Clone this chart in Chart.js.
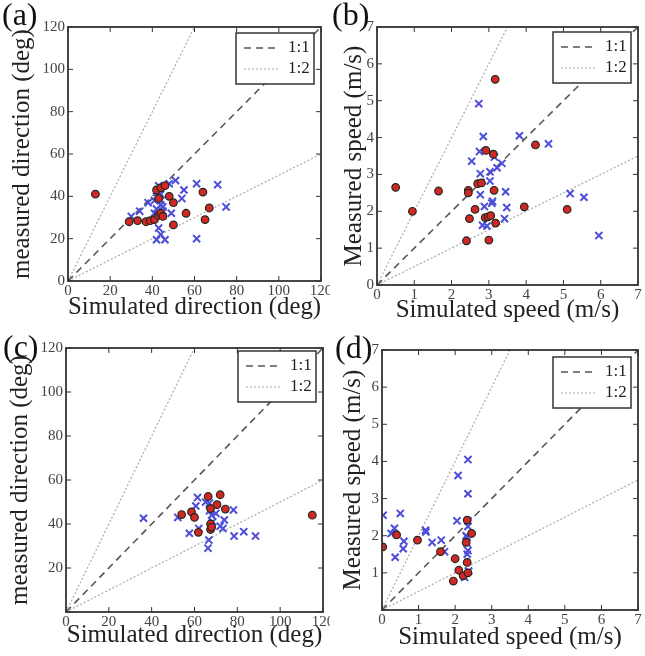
<!DOCTYPE html>
<html>
<head>
<meta charset="utf-8">
<script src="https://cdn.jsdelivr.net/npm/chart.js@4.4.1/dist/chart.umd.min.js"></script>
<style>
body { margin: 0; background: #fff; }
#wrap { position: relative; width: 645px; height: 656px; }
canvas { position: absolute; }
</style>
</head>
<body>
<div id="wrap">
  <canvas id="chartA" width="330" height="325" style="left:0;top:0"></canvas>
  <canvas id="chartB" width="325" height="325" style="left:320px;top:0"></canvas>
  <canvas id="chartC" width="330" height="331" style="left:0;top:325px"></canvas>
  <canvas id="chartD" width="325" height="331" style="left:320px;top:325px"></canvas>
</div>
<script>
// (a) direction, first run  [simulated, measured]
const dirCirclesA = [[13,41],[29,28],[33,28.5],[37,28],[39,28.5],[41,29],[43,31],[44,32],[45,30.5],[42,43],
  [44,44],[46,45],[43,39],[48,40],[50,37],[50,26.5],[56,32],[64,42],[67,34.5],[65,29]]
const dirCrossesA = [[30,30.5],[34,33],[38,37],[41,32],[41,38],[42,40],[43,45],[43,42],[44,41],[44,38],
  [44,36],[45,35],[45,33],[42,34],[43,25],[42,19.5],[44,22],[46,19.5],[48,46],[51,47.5],[49,32],
  [54,39],[55,43],[61,46],[61,20],[71,45.5],[75,35]]

// (b) speed, first run
const spdCirclesB = [[0.5,2.65],[0.95,2.0],[1.65,2.55],[2.45,2.57],[2.45,2.5],[2.48,1.8],[2.4,1.2],[2.7,2.75],
  [2.8,2.77],[2.63,2.05],[2.92,3.65],[3.12,3.55],[3.14,2.57],[2.9,1.83],[2.98,1.85],[3.05,1.88],[3.0,1.22],
  [3.18,1.68],[3.17,5.58],[4.25,3.8],[3.95,2.12],[5.1,2.05]]
const spdCrossesB = [[2.73,4.92],[2.85,4.03],[2.54,3.36],[2.75,3.62],[2.77,3.02],[2.77,2.45],[3.03,3.07],
  [3.03,2.82],[3.22,3.18],[3.35,3.3],[2.88,2.13],[3.08,2.22],[3.1,2.27],[2.83,1.62],[2.95,1.6],[3.45,2.53],
  [3.48,2.1],[3.42,1.8],[3.82,4.05],[4.6,3.83],[5.18,2.48],[5.55,2.38],[5.95,1.34],[3.15,3.47]]

// (c) direction, second run
const dirCirclesC = [[54,44.3],[58.6,45.5],[60,43],[61.8,36.2],[66.4,52.5],[72,53.3],[70.5,48.8],[74.4,46.8],
  [67.5,47],[67.5,40],[67.5,37.5],[68,38.5],[115,44]]
const dirCrossesC = [[36.2,42.6],[52.2,43],[61.4,52],[60.6,48.2],[57.6,35.8],[66.7,32.7],[66.3,29],[65.2,50],
  [67,46],[68,44],[68.5,41],[70,44.8],[78.2,46.4],[73.9,41.8],[73.3,38],[78.5,34.5],[83,36.5],[88.5,34.5],
  [62,38],[67,49.5],[72,39]]

// (d) speed, second run
const spdCirclesD = [[0.02,1.7],[0.4,2.02],[0.97,1.88],[1.6,1.57],[2.0,1.38],[2.1,1.07],[1.95,0.78],[2.22,0.92],
  [2.33,1.28],[2.33,2.42],[2.45,2.06],[2.3,1.82],[2.35,1.0]]
const spdCrossesD = [[0.03,2.55],[0.5,2.6],[0.34,2.2],[0.25,2.06],[0.36,1.42],[0.6,1.85],[0.58,1.65],[1.19,2.15],
  [1.2,2.1],[1.37,1.82],[1.62,1.88],[1.71,1.57],[2.05,2.4],[2.08,3.62],[2.35,4.05],[2.35,3.13],[2.35,2.4],
  [2.35,2.25],[2.32,1.98],[2.32,1.8],[2.35,1.6],[2.33,1.5],[2.26,0.88],[2.37,1.05],[2.3,2.0]]

const dirTicks = [0, 20, 40, 60, 80, 100, 120]
const spdTicks = [0, 1, 2, 3, 4, 5, 6, 7]
const ratioLabels = ['1:1', '1:2']

const serif = '"Liberation Serif", "DejaVu Serif", serif'

const panelDeco = {
  id: 'panelDeco',
  afterDatasetsDraw(chart, args, opts) {
    const {ctx, chartArea: ca} = chart
    const xs = chart.scales.x, ys = chart.scales.y
    ctx.save()
    ctx.strokeStyle = '#333'
    ctx.lineWidth = 1
    ctx.beginPath()
    xs.ticks.forEach(t => {
      const px = xs.getPixelForValue(t.value)
      ctx.moveTo(px, ca.bottom); ctx.lineTo(px, ca.bottom - 5)
      ctx.moveTo(px, ca.top); ctx.lineTo(px, ca.top + 5)
    })
    ys.ticks.forEach(t => {
      const py = ys.getPixelForValue(t.value)
      ctx.moveTo(ca.left, py); ctx.lineTo(ca.left + 5, py)
      ctx.moveTo(ca.right, py); ctx.lineTo(ca.right - 5, py)
    })
    ctx.stroke()
    ctx.lineWidth = 1.8
    ctx.strokeRect(ca.left, ca.top, ca.width, ca.height)

    // legend box
    const items = chart.data.datasets.filter(d => d.inLegend)
    const bw = 78, bh = 51
    const bx = ca.right - 7 - bw, by = ca.top + opts.legTop
    ctx.fillStyle = '#fff'
    ctx.fillRect(bx, by, bw, bh)
    ctx.lineWidth = 1.5
    ctx.strokeStyle = '#333'
    ctx.strokeRect(bx, by, bw, bh)
    items.forEach((d, i) => {
      const yy = by + 15 + i * 21
      ctx.setLineDash(d.borderDash)
      ctx.strokeStyle = d.borderColor
      ctx.lineWidth = d.borderWidth
      ctx.beginPath(); ctx.moveTo(bx + 8, yy); ctx.lineTo(bx + 42, yy); ctx.stroke()
      ctx.setLineDash([])
      ctx.fillStyle = '#222'
      ctx.font = '17px ' + serif
      ctx.textBaseline = 'middle'
      ctx.textAlign = 'left'
      ctx.fillText(d.label, bx + 52, yy)
    })

    ctx.fillStyle = '#111'
    ctx.font = '32px ' + serif
    ctx.textBaseline = 'alphabetic'
    ctx.textAlign = 'left'
    ctx.fillText(opts.letter, opts.lx, opts.ly)
    ctx.restore()
  }
}

function makeSets(circles, crosses, max) {
  return [
    {data: circles.map(([x, y]) => ({x, y})), pointStyle: 'circle', pointRadius: 3.8,
     backgroundColor: '#d42626', borderColor: '#1c2a1c', pointBorderWidth: 1.2},
    {data: crosses.map(([x, y]) => ({x, y})), pointStyle: 'crossRot', pointRadius: 5,
     borderColor: '#4d4dd8', backgroundColor: '#4d4dd8', pointBorderWidth: 2},
    {label: ratioLabels[0], inLegend: true, showLine: true, data: [{x: 0, y: 0}, {x: max, y: max}],
     borderColor: '#555', borderDash: [7, 5], borderWidth: 1.6, pointRadius: 0},
    {label: ratioLabels[1], inLegend: true, showLine: true, data: [{x: 0, y: 0}, {x: max, y: max / 2}],
     borderColor: '#aaa', borderDash: [2, 2], borderWidth: 1.2, pointRadius: 0},
    {label: ratioLabels[1], showLine: true, data: [{x: 0, y: 0}, {x: max / 2, y: max}],
     borderColor: '#aaa', borderDash: [2, 2], borderWidth: 1.2, pointRadius: 0}
  ]
}

function makeChart(id, p) {
  const max = p.ticks[p.ticks.length - 1]
  const tickFont = {family: serif, size: 15}
  const titleFont = {family: serif, size: 25}
  return new Chart(document.getElementById(id), {
    type: 'scatter',
    data: {datasets: makeSets(p.circles, p.crosses, max)},
    options: {
      responsive: false,
      animation: false,
      layout: {padding: {left: 0, right: p.padR, top: p.padT, bottom: 0}},
      plugins: {
        legend: {display: false},
        tooltip: {enabled: false},
        panelDeco: {letter: p.letter, lx: p.lx, ly: p.ly, legTop: p.legTop}
      },
      scales: {
        x: {
          type: 'linear', min: 0, max: max,
          afterBuildTicks: s => { s.ticks = p.ticks.map(v => ({value: v})) },
          grid: {display: false, drawTicks: false}, border: {display: false},
          ticks: {font: tickFont, color: '#444', padding: 1, maxRotation: 0,
                  callback: v => p.hideX0 && v === 0 ? '' : v},
          title: {display: true, text: p.xTitle, font: titleFont, color: '#222',
                  padding: {top: 0, bottom: p.xTitlePad}},
          afterFit: s => { s.height = p.xH; s.paddingLeft = 0; s.paddingRight = 0 }
        },
        y: {
          type: 'linear', min: 0, max: max,
          afterBuildTicks: s => { s.ticks = p.ticks.map(v => ({value: v})) },
          grid: {display: false, drawTicks: false}, border: {display: false},
          ticks: {font: tickFont, color: '#444', padding: 3,
                  callback: v => p.hideY0 && v === 0 ? '' : v},
          title: {display: true, text: p.yTitle, font: titleFont, color: '#222',
                  padding: {top: p.yTitlePad, bottom: 0}},
          afterFit: s => { s.width = p.yW; s.paddingTop = 0; s.paddingBottom = 0 }
        }
      }
    },
    plugins: [panelDeco]
  })
}

makeChart('chartA', {circles: dirCirclesA, crosses: dirCrossesA, ticks: dirTicks,
  xTitle: 'Simulated direction (deg)', yTitle: 'measured direction (deg)',
  letter: '(a)', lx: 2, ly: 25, padR: 9, padT: 27, xH: 44, yW: 68, xTitlePad: 3, yTitlePad: 7, legTop: 6})
makeChart('chartB', {circles: spdCirclesB, crosses: spdCrossesB, ticks: spdTicks,
  xTitle: 'Simulated speed (m/s)', yTitle: 'Measured speed (m/s)',
  letter: '(b)', lx: 12, ly: 25, padR: 2, padT: 27, xH: 40, yW: 57, xTitlePad: 0, yTitlePad: 19, legTop: 5})
makeChart('chartC', {circles: dirCirclesC, crosses: dirCrossesC, ticks: dirTicks, hideY0: true,
  xTitle: 'Simulated direction (deg)', yTitle: 'measured direction (deg)',
  letter: '(c)', lx: 3, ly: 32, padR: 2, padT: 23, xH: 44, yW: 66, xTitlePad: 6, yTitlePad: 5, legTop: 3})
makeChart('chartD', {circles: spdCirclesD, crosses: spdCrossesD, ticks: spdTicks, hideY0: true,
  xTitle: 'Simulated speed (m/s)', yTitle: 'Measured speed (m/s)',
  letter: '(d)', lx: 15, ly: 33, padR: 2, padT: 25, xH: 46, yW: 62, xTitlePad: 4, yTitlePad: 18, legTop: 7})
</script>
</body>
</html>
